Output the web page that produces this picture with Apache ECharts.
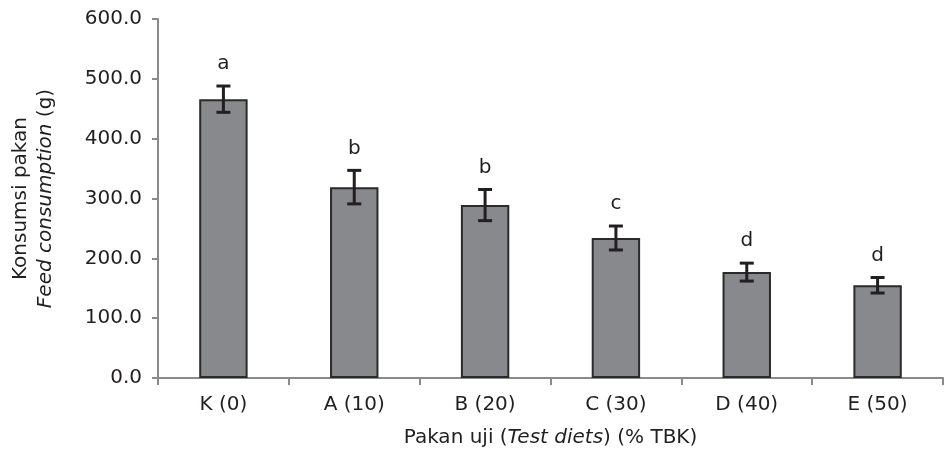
<!DOCTYPE html>
<html>
<head>
<meta charset="utf-8">
<script src="https://cdn.jsdelivr.net/npm/echarts@6/dist/echarts.min.js"></script>
<style>html,body{margin:0;padding:0;background:#fff}#c{width:946px;height:455px}</style>
</head>
<body>
<div id="c"></div>
<script>
var categories = ['K (0)', 'A (10)', 'B (20)', 'C (30)', 'D (40)', 'E (50)'];
var consumption = [466, 319, 289, 234, 177, 155];
var errors = [22, 28, 26, 20, 15, 13];
var letters = ['a', 'b', 'b', 'c', 'd', 'd'];
var yTicks = [0, 100, 200, 300, 400, 500, 600];

var FONT = 'DejaVu Sans';
var FS = 20;
var chart = echarts.init(document.getElementById('c'));
var errData = categories.map(function (c, i) { return [i, consumption[i], errors[i], letters[i]]; });

chart.setOption({
  animation: false,
  grid: { left: 154, right: 3, top: 19, bottom: 77 },
  xAxis: {
    type: 'category',
    data: categories,
    boundaryGap: true,
    axisLine: { lineStyle: { color: '#8a8a8a', width: 2 } },
    axisTick: { show: true, length: 7, alignWithLabel: false, lineStyle: { color: '#8a8a8a', width: 2 } },
    axisLabel: { fontFamily: FONT, fontSize: FS, color: '#231f20', margin: 17 },
    name: '{n|Pakan uji (}{i|Test diets}{n|) (% TBK)}',
    nameLocation: 'middle',
    nameGap: 50,
    nameTextStyle: {
      rich: {
        n: { fontFamily: FONT, fontSize: FS, color: '#231f20' },
        i: { fontFamily: FONT, fontSize: FS, color: '#231f20', fontStyle: 'italic' }
      }
    }
  },
  yAxis: {
    type: 'value',
    min: yTicks[0],
    max: yTicks[yTicks.length - 1],
    interval: 100,
    splitLine: { show: false },
    axisLine: { show: true, lineStyle: { color: '#8a8a8a', width: 2 } },
    axisTick: { show: true, length: 6, lineStyle: { color: '#8a8a8a', width: 2 } },
    axisLabel: {
      fontFamily: FONT, fontSize: FS, color: '#231f20', margin: 16,
      formatter: function (v) { return v.toFixed(1); }
    },
    name: '{n|Konsumsi pakan}\n{i|Feed consumption}{n| (g)}',
    nameLocation: 'middle',
    nameRotate: 90,
    nameGap: 100,
    nameTextStyle: {
      lineHeight: 25,
      rich: {
        n: { fontFamily: FONT, fontSize: FS, color: '#231f20', lineHeight: 25 },
        i: { fontFamily: FONT, fontSize: FS, color: '#231f20', fontStyle: 'italic', lineHeight: 25 }
      }
    }
  },
  series: [
    {
      type: 'bar',
      data: consumption,
      barWidth: '37%',
      itemStyle: { color: '#87898c', borderColor: '#2a2a2a', borderWidth: 2 }
    },
    {
      type: 'custom',
      data: errData,
      z: 10,
      renderItem: function (params, api) {
        var i = api.value(0), v = api.value(1), e = api.value(2);
        var top = api.coord([i, v + e]);
        var bot = api.coord([i, v - e]);
        var hw = 7;
        var ls = { stroke: '#231f20', lineWidth: 3 };
        return {
          type: 'group',
          children: [
            { type: 'line', shape: { x1: top[0], y1: top[1], x2: bot[0], y2: bot[1] }, style: ls },
            { type: 'line', shape: { x1: top[0] - hw, y1: top[1], x2: top[0] + hw, y2: top[1] }, style: ls },
            { type: 'line', shape: { x1: bot[0] - hw, y1: bot[1], x2: bot[0] + hw, y2: bot[1] }, style: ls },
            { type: 'text', style: {
                text: letters[params.dataIndex], x: top[0], y: top[1] - 12,
                textAlign: 'center', textVerticalAlign: 'bottom',
                font: FS + 'px "' + FONT + '"', fill: '#231f20'
            } }
          ]
        };
      }
    }
  ]
});
</script>
</body>
</html>
